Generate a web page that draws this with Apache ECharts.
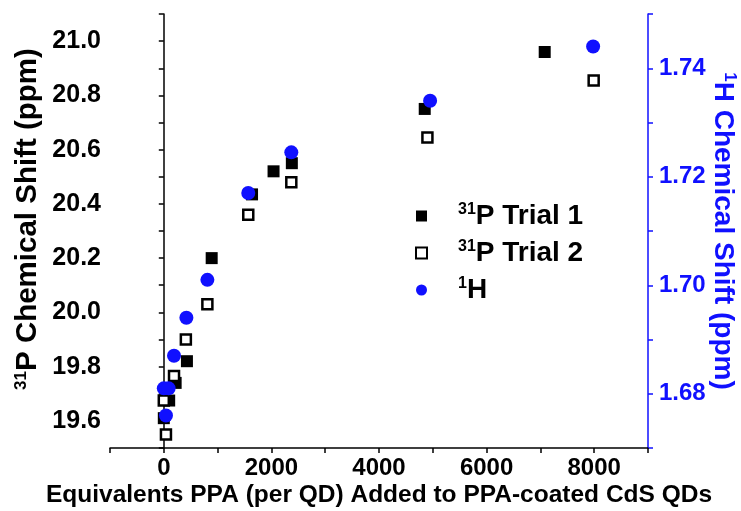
<!DOCTYPE html>
<html>
<head>
<meta charset="utf-8">
<script src="https://cdn.jsdelivr.net/npm/echarts@6/dist/echarts.min.js"></script>
<style>
  html, body { margin: 0; padding: 0; background: #fff; }
  #chart { width: 741px; height: 511px; }
</style>
</head>
<body>
<div id="chart"></div>
<script>
// 31P trial 1 (filled squares), left axis
var trial1X = [0, 100, 220, 430, 890, 1640, 2040, 2380, 4850, 7080];
var trial1Y = [19.61, 19.675, 19.74, 19.82, 20.20, 20.435, 20.52, 20.55, 20.75, 20.96];
// 31P trial 2 (open squares), left axis
var trial2X = [0, 40, 190, 410, 810, 1570, 2370, 4900, 7990];
var trial2Y = [19.675, 19.55, 19.765, 19.90, 20.03, 20.36, 20.48, 20.645, 20.855];
// 1H (blue circles), right axis
var protonX = [0, 40, 90, 190, 420, 810, 1570, 2370, 4950, 7980];
var protonY = [1.681, 1.676, 1.681, 1.687, 1.694, 1.701, 1.717, 1.7245, 1.734, 1.744];

var xTicks = [0, 2000, 4000, 6000, 8000];
var leftTicks = [19.6, 19.8, 20.0, 20.2, 20.4, 20.6, 20.8, 21.0];
var rightTicks = [1.68, 1.70, 1.72, 1.74];

function pairs(xs, ys) {
  var out = [];
  for (var i = 0; i < xs.length; i++) out.push([xs[i], ys[i]]);
  return out;
}
function inList(list, v, eps) {
  for (var i = 0; i < list.length; i++) if (Math.abs(list[i] - v) < eps) return true;
  return false;
}

var FONT = 'Liberation Sans';
var BLUE = '#1010ff';

var myChart = echarts.init(document.getElementById('chart'));

var option = {
  animation: false,
  grid: { left: 110, right: 93, top: 14, bottom: 63, containLabel: false, outerBoundsMode: 'none' },
  legend: {
    orient: 'vertical',
    left: 410,
    top: 197,
    itemWidth: 11,
    itemHeight: 11,
    itemGap: 9,
    textStyle: {
      fontFamily: FONT,
      fontWeight: 'bold',
      fontSize: 28,
      color: '#000',
      padding: [0, 0, 0, 26],
      rich: {
        sup: { fontFamily: FONT, fontWeight: 'bold', fontSize: 16, verticalAlign: 'top', padding: [0, 0, 12, 0] },
        main: { fontFamily: FONT, fontWeight: 'bold', fontSize: 28 }
      }
    },
    formatter: function (name) {
      if (name === 'trial1') return '{sup|31}{main|P Trial 1}';
      if (name === 'trial2') return '{sup|31}{main|P Trial 2}';
      return '{sup|1}{main|H}';
    },
    data: ['trial1', 'trial2', 'proton']
  },
  xAxis: {
    type: 'value',
    min: -1000,
    max: 9000,
    interval: 1000,
    name: 'Equivalents PPA (per QD) Added to PPA-coated CdS QDs',
    nameLocation: 'middle',
    nameGap: 35,
    nameMoveOverlap: false,
    nameTextStyle: { fontFamily: FONT, fontWeight: 'bold', fontSize: 24.5, color: '#000' },
    axisLine: { lineStyle: { color: '#000', width: 1.5 } },
    axisTick: { inside: false, length: 5, lineStyle: { color: '#000', width: 1.5 } },
    axisLabel: {
      margin: 8,
      fontFamily: FONT, fontWeight: 'bold', fontSize: 24, color: '#000',
      formatter: function (v) { return inList(xTicks, v, 1) ? String(v) : ''; }
    },
    splitLine: { show: false }
  },
  yAxis: [
    {
      type: 'value',
      position: 'left',
      min: 19.5,
      max: 21.1,
      interval: 0.1,
      name: '{sup|31}{main|P Chemical Shift (ppm)}',
      nameLocation: 'middle',
      nameRotate: 90,
      nameGap: 67,
      nameMoveOverlap: false,
      nameTextStyle: {
        color: '#000',
        padding: [0, 0, 0, 24],
        rich: {
          sup: { fontFamily: FONT, fontWeight: 'bold', fontSize: 17, verticalAlign: 'top', padding: [0, 0, 13, 0], color: '#000' },
          main: { fontFamily: FONT, fontWeight: 'bold', fontSize: 29.5, color: '#000' }
        }
      },
      axisLine: { show: true, lineStyle: { color: '#000', width: 1.5 } },
      axisTick: { inside: false, length: 5, lineStyle: { color: '#000', width: 1.5 } },
      axisLabel: {
        margin: 9,
        fontFamily: FONT, fontWeight: 'bold', fontSize: 25, color: '#000',
        formatter: function (v) { return inList(leftTicks, v, 0.001) ? v.toFixed(1) : ''; }
      },
      splitLine: { show: false }
    },
    {
      type: 'value',
      position: 'right',
      min: 1.67,
      max: 1.75,
      interval: 0.01,
      name: '{sup|1}{main|H Chemical Shift (ppm)}',
      nameLocation: 'middle',
      nameRotate: -90,
      nameGap: 60,
      nameMoveOverlap: false,
      nameTextStyle: {
        color: BLUE,
        rich: {
          sup: { fontFamily: FONT, fontWeight: 'bold', fontSize: 17, verticalAlign: 'top', padding: [0, 0, 13, 0], color: BLUE },
          main: { fontFamily: FONT, fontWeight: 'bold', fontSize: 28, color: BLUE }
        }
      },
      axisLine: { show: true, lineStyle: { color: BLUE, width: 1.5 } },
      axisTick: { inside: false, length: 5, lineStyle: { color: BLUE, width: 1.5 } },
      axisLabel: {
        margin: 11,
        fontFamily: FONT, fontWeight: 'bold', fontSize: 24, color: BLUE,
        formatter: function (v) { return inList(rightTicks, v, 0.0001) ? v.toFixed(2) : ''; }
      },
      splitLine: { show: false }
    }
  ],
  series: [
    {
      name: 'trial1',
      type: 'scatter',
      yAxisIndex: 0,
      symbol: 'rect',
      symbolSize: 12,
      itemStyle: { color: '#000', opacity: 1 },
      data: pairs(trial1X, trial1Y)
    },
    {
      name: 'trial2',
      type: 'scatter',
      yAxisIndex: 0,
      symbol: 'rect',
      symbolSize: 10,
      itemStyle: { color: '#fff', borderColor: '#000', borderWidth: 2.5, opacity: 1 },
      data: pairs(trial2X, trial2Y)
    },
    {
      name: 'proton',
      type: 'scatter',
      yAxisIndex: 1,
      symbol: 'circle',
      symbolSize: 14,
      itemStyle: { color: BLUE, opacity: 1 },
      data: pairs(protonX, protonY)
    }
  ]
};

myChart.setOption(option);
</script>
</body>
</html>
